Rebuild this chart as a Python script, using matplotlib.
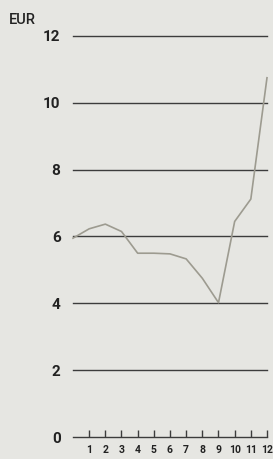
import numpy as np
import matplotlib.pyplot as plt

# monthly values, EUR
months = list(range(0, 13))
price = [5.95, 6.23, 6.37, 6.15, 5.50, 5.50, 5.48, 5.33, 4.75, 4.02, 6.45, 7.12, 10.75]
yticks = [0, 2, 4, 6, 8, 10, 12]
xticks = list(range(1, 13))

bg = "#e6e6e2"
plt.rcParams["font.family"] = ["Roboto", "DejaVu Sans"]

fig = plt.figure(figsize=(2.73, 4.59), dpi=100, facecolor=bg)
ax = fig.add_axes([0.2674, 0.0479, 0.7106, 0.8737])
ax.set_facecolor(bg)

for y in yticks:
    ax.axhline(y, color="#3c3c3c", lw=1.0, zorder=1, clip_on=False)

# small upward ticks on the zero line
ax.plot(xticks, [0] * len(xticks), ls="none", marker=2, ms=5, mew=1.0,
        color="#3c3c3c", zorder=2, clip_on=False)

ax.plot(months, price, color="#9d9b90", lw=1.2, zorder=3, clip_on=False)

ax.set_xlim(0, 12)
ax.set_ylim(0, 12)
for s in ax.spines.values():
    s.set_visible(False)

ax.set_yticks(yticks)
ax.set_yticklabels([str(v) for v in yticks], fontsize=11, fontweight="bold", color="#222222")
ax.tick_params(axis="y", length=0, pad=9)

ax.set_xticks(xticks)
ax.set_xticklabels([str(v) for v in xticks], fontsize=7.5, fontweight="bold", color="#222222")
ax.tick_params(axis="x", length=0, pad=6)

fig.text(0.033, 0.957, "EUR", fontsize=10.5, fontweight="medium", color="#222222", va="center", ha="left")

fig.savefig("out.png", dpi=100, facecolor=bg)
